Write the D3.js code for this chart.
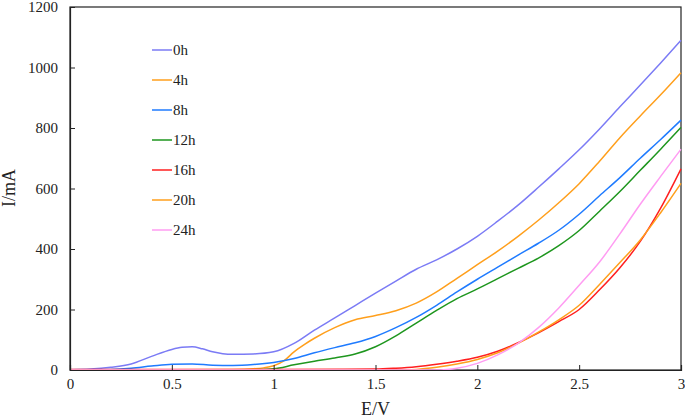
<!DOCTYPE html>
<html>
<head>
<meta charset="utf-8">
<script src="https://cdn.jsdelivr.net/npm/d3@7"></script>
<style>
  html, body { margin: 0; padding: 0; background: #fff; }
  svg { display: block; }
  svg text { font-family: "Liberation Serif", "Times New Roman", serif; }
</style>
</head>
<body>
<svg id="chart" width="685" height="418"></svg>
<script>
// ---- data (E in V, I in mA) ----
const seriesNames = ["0h", "4h", "8h", "12h", "16h", "20h", "24h"];
const seriesColors = ["#7b7bf5", "#ff9f1c", "#1f7bff", "#1e961e", "#ff1f1f", "#ff9f1c", "#ff9cf2"];

const s0h = [[0,1],[0.1,3],[0.2,9],[0.3,20],[0.4,45],[0.5,68],[0.55,75],[0.6,77],[0.65,70],[0.7,60],[0.75,54],[0.8,52],[0.9,53],[1.0,60],[1.1,88],[1.2,132],[1.3,172],[1.4,213],[1.5,254],[1.6,294],[1.7,333],[1.8,364],[1.9,400],[2.0,442],[2.1,492],[2.2,545],[2.3,604],[2.4,665],[2.5,728],[2.6,797],[2.7,870],[2.8,942],[2.9,1015],[3.0,1090]];
const s4h = [[0,0],[0.3,1],[0.5,1],[0.8,2],[0.9,4],[0.95,7],[1.0,14],[1.05,30],[1.1,60],[1.15,84],[1.2,105],[1.3,140],[1.4,166],[1.5,180],[1.6,196],[1.7,221],[1.8,258],[1.9,303],[2.0,348],[2.1,393],[2.2,442],[2.3,495],[2.4,553],[2.5,616],[2.6,690],[2.7,768],[2.8,840],[2.9,910],[3.0,983]];
const s8h = [[0,0],[0.2,2],[0.3,6],[0.4,13],[0.5,19],[0.6,20],[0.7,16],[0.8,15],[0.9,18],[1.0,25],[1.1,38],[1.2,57],[1.3,74],[1.4,90],[1.5,111],[1.6,140],[1.7,174],[1.8,214],[1.9,258],[2.0,300],[2.1,340],[2.2,380],[2.3,419],[2.4,462],[2.5,515],[2.6,576],[2.7,636],[2.8,700],[2.9,762],[3.0,826]];
const s12h = [[0,0],[0.9,1],[1.0,4],[1.1,17],[1.2,29],[1.3,40],[1.4,53],[1.5,77],[1.6,113],[1.7,155],[1.8,197],[1.9,236],[2.0,268],[2.1,302],[2.2,336],[2.3,370],[2.4,411],[2.5,461],[2.6,525],[2.7,590],[2.8,660],[2.9,730],[3.0,802]];
const s16h = [[0,2],[0.5,2],[1.0,2],[1.5,3],[1.6,6],[1.7,11],[1.8,19],[1.9,29],[2.0,42],[2.1,62],[2.2,90],[2.3,123],[2.4,160],[2.5,200],[2.6,265],[2.7,338],[2.8,425],[2.9,535],[3.0,665]];
const s20h = [[0,0],[1.6,0],[1.7,2],[1.8,9],[1.9,20],[2.0,35],[2.1,57],[2.2,88],[2.3,125],[2.4,166],[2.5,214],[2.6,283],[2.7,355],[2.8,430],[2.9,520],[3.0,617]];
const s24h = [[0,0],[1.8,0],[1.85,2],[1.9,6],[2.0,22],[2.1,50],[2.2,88],[2.3,140],[2.4,205],[2.5,280],[2.6,357],[2.7,450],[2.8,548],[2.9,640],[3.0,730]];

const seriesData = [s0h, s4h, s8h, s12h, s16h, s20h, s24h];
const xTicks = [0, 0.5, 1, 1.5, 2, 2.5, 3];
const yTicks = [0, 200, 400, 600, 800, 1000, 1200];
const xLabel = "E/V";
const yLabel = "I/mA";

// ---- layout ----
const svg = d3.select("#chart");
const mLeft = 70, mRight = 681, mTop = 7, mBottom = 370;
const serif = '"Liberation Serif", "Times New Roman", serif';

const x = d3.scaleLinear().domain([0, 3]).range([mLeft, mRight]);
const y = d3.scaleLinear().domain([0, 1200]).range([mBottom, mTop]);

// frame
svg.append("rect")
  .attr("x", mLeft).attr("y", mTop)
  .attr("width", mRight - mLeft).attr("height", mBottom - mTop)
  .attr("fill", "none").attr("stroke", "#222").attr("stroke-width", 1.2);

// lines
const line = d3.line().x(d => x(d[0])).y(d => y(d[1])).curve(d3.curveMonotoneX);
const g = svg.append("g");
seriesData.forEach((s, i) => {
  g.append("path")
    .attr("d", line(s))
    .attr("fill", "none")
    .attr("stroke", seriesColors[i])
    .attr("stroke-width", 1.5);
});

// axes
const xAxis = d3.axisBottom(x).tickValues(xTicks).tickSize(-5).tickPadding(8)
  .tickFormat(d3.format("~g"));
const gx = svg.append("g").attr("transform", `translate(0,${mBottom})`).call(xAxis);
const yAxis = d3.axisLeft(y).tickValues(yTicks).tickSize(-5).tickPadding(12)
  .tickFormat(d3.format("d"));
const gy = svg.append("g").attr("transform", `translate(${mLeft},0)`).call(yAxis);
[gx, gy].forEach(a => {
  a.attr("font-family", serif);
  a.select(".domain").attr("stroke", "#222").attr("stroke-width", 1.2);
  a.selectAll(".tick line").attr("stroke", "#222");
  a.selectAll("text").style("font-family", serif)
    .attr("font-size", 15).attr("fill", "#222");
});

// axis labels
svg.append("text")
  .attr("x", (mLeft + mRight) / 2).attr("y", 415)
  .attr("text-anchor", "middle")
  .style("font-family", serif)
  .attr("font-size", 18).attr("fill", "#222")
  .text(xLabel);
svg.append("text")
  .attr("transform", `translate(15,188) rotate(-90)`)
  .attr("text-anchor", "middle")
  .style("font-family", serif)
  .attr("font-size", 18).attr("fill", "#222")
  .text(yLabel);

// legend
const leg = svg.append("g");
seriesNames.forEach((n, i) => {
  const ly = 50 + i * 30;
  leg.append("line")
    .attr("x1", 152).attr("x2", 172).attr("y1", ly).attr("y2", ly)
    .attr("stroke", seriesColors[i]).attr("stroke-width", 1.5);
  leg.append("text")
    .attr("x", 173).attr("y", ly + 5)
    .style("font-family", serif)
    .attr("font-size", 15).attr("fill", "#222")
    .text(n);
});
</script>
</body>
</html>
